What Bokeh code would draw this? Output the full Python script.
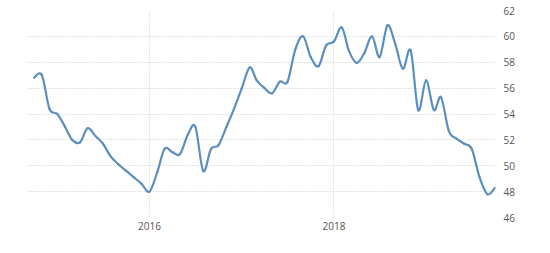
import pandas as pd
from datetime import datetime
from bokeh.plotting import figure
from bokeh.models import Range1d, FixedTicker, DatetimeTickFormatter, ColumnDataSource
from bokeh.embed import file_html
from bokeh.resources import INLINE

# Monthly values, Oct 2014 .. Oct 2019
start_month = "2014-10-01"
values = [
    56.8, 57.0, 54.4, 54.0, 53.0, 52.0, 51.8, 52.9, 52.3, 51.7,
    50.7, 50.1, 49.6, 49.1, 48.6, 48.0, 49.5, 51.3, 51.05, 50.9,
    52.4, 53.0, 49.6, 51.3, 51.6, 53.0, 54.4, 56.0, 57.6, 56.6,
    56.0, 55.6, 56.5, 56.5, 59.0, 60.0, 58.4, 57.7, 59.3, 59.6,
    60.7, 58.9, 57.95, 58.7, 60.0, 58.4, 60.85, 59.4, 57.5, 58.9,
    54.3, 56.6, 54.3, 55.3, 52.7, 52.1, 51.7, 51.3, 49.1, 47.8,
    48.3,
]
x_tick_years = [2016, 2018]
y_ticks = [46, 48, 50, 52, 54, 56, 58, 60, 62]

dates = pd.date_range(start_month, periods=len(values), freq="MS")


def ms(d):
    return pd.Timestamp(d).value / 1e6


xs = [ms(d) for d in dates]
ys = values
n = len(xs)

# Smooth rendering: one cubic Bezier per data segment (Catmull-Rom control points)
seg = dict(x0=[], y0=[], x1=[], y1=[], cx0=[], cy0=[], cx1=[], cy1=[])
for i in range(n - 1):
    xp, yp = (xs[i - 1], ys[i - 1]) if i > 0 else (xs[i], ys[i])
    xn2, yn2 = (xs[i + 2], ys[i + 2]) if i + 2 < n else (xs[i + 1], ys[i + 1])
    seg["x0"].append(xs[i]); seg["y0"].append(ys[i])
    seg["x1"].append(xs[i + 1]); seg["y1"].append(ys[i + 1])
    seg["cx0"].append(xs[i] + (xs[i + 1] - xp) / 6.0)
    seg["cy0"].append(ys[i] + (ys[i + 1] - yp) / 6.0)
    seg["cx1"].append(xs[i + 1] - (xn2 - xs[i]) / 6.0)
    seg["cy1"].append(ys[i + 1] - (yn2 - ys[i]) / 6.0)

p = figure(
    width=550, height=253, output_backend="svg", toolbar_location=None,
    x_axis_type="datetime", y_axis_location="right",
    min_border_left=26, min_border_right=55, min_border_top=10, min_border_bottom=36,
)
p.x_range = Range1d(ms("2014-09-01"), ms("2019-10-03"))
p.y_range = Range1d(46, 62)
p.outline_line_color = None
p.background_fill_color = "white"
p.border_fill_color = "white"

p.bezier(x0="x0", y0="y0", x1="x1", y1="y1", cx0="cx0", cy0="cy0", cx1="cx1", cy1="cy1",
         source=ColumnDataSource(seg), line_color="#5b8fbd", line_width=2.2, line_cap="round")

xa = p.xaxis[0]
xa.ticker = FixedTicker(ticks=[ms(datetime(y, 1, 1)) for y in x_tick_years])
xa.formatter = DatetimeTickFormatter(years="%Y", months="%Y", days="%Y", hours="%Y",
                                     minutes="%Y", seconds="%Y", milliseconds="%Y",
                                     microseconds="%Y", hourmin="%Y", minsec="%Y")
ya = p.yaxis[0]
ya.ticker = FixedTicker(ticks=y_ticks)

for ax in (xa, ya):
    ax.axis_line_color = None
    ax.major_tick_line_color = None
    ax.minor_tick_line_color = None
    ax.major_tick_out = 0
    ax.major_tick_in = 0
    ax.major_label_text_font = "Open Sans"
    ax.major_label_text_font_size = "10px"
    ax.major_label_text_color = "#555555"
xa.major_label_standoff = 4
ya.major_label_standoff = 8

p.xgrid.grid_line_color = "#e2e2e2"
p.xgrid.grid_line_dash = "2 1"
p.ygrid.grid_line_color = "#e2e2e2"
p.ygrid.grid_line_dash = "2 1"

open("out.html", "w").write(file_html(p, INLINE))
